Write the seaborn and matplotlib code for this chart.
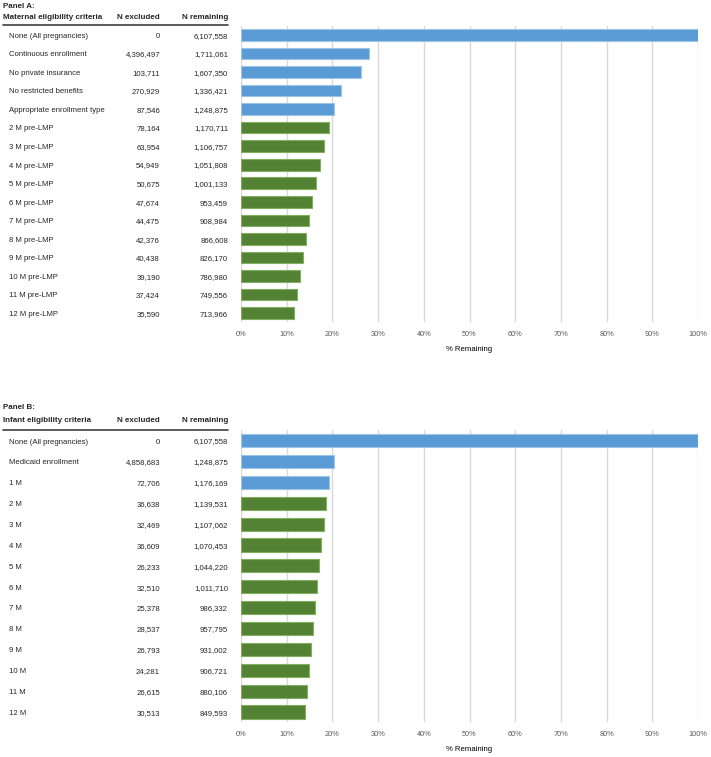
import matplotlib
matplotlib.use('Agg')
import matplotlib.pyplot as plt
import matplotlib.transforms as mtransforms
import pandas as pd
import seaborn as sns

# Panel A data
a_criteria = ['None (All pregnancies)', 'Continuous enrollment', 'No private insurance',
              'No restricted benefits', 'Appropriate enrollment type',
              '2 M pre-LMP', '3 M pre-LMP', '4 M pre-LMP', '5 M pre-LMP', '6 M pre-LMP',
              '7 M pre-LMP', '8 M pre-LMP', '9 M pre-LMP', '10 M pre-LMP', '11 M pre-LMP',
              '12 M pre-LMP']
a_excluded = [0, 4396497, 103711, 270929, 87546, 78164, 63954, 54949, 50675, 47674,
              44475, 42376, 40438, 39190, 37424, 35590]
a_remaining = [6107558, 1711061, 1607350, 1336421, 1248875, 1170711, 1106757, 1051808,
               1001133, 953459, 908984, 866608, 826170, 786980, 749556, 713966]
a_group = ['base'] * 5 + ['month'] * 11

# Panel B data
b_criteria = ['None (All pregnancies)', 'Medicaid enrollment', '1 M', '2 M', '3 M', '4 M',
              '5 M', '6 M', '7 M', '8 M', '9 M', '10 M', '11 M', '12 M']
b_excluded = [0, 4858683, 72706, 36638, 32469, 36609, 26233, 32510, 25378, 28537,
              26793, 24281, 26615, 30513]
b_remaining = [6107558, 1248875, 1176169, 1139531, 1107062, 1070453, 1044220, 1011710,
               986332, 957795, 931002, 906721, 880106, 849593]
b_group = ['base'] * 3 + ['month'] * 11

x_ticks = list(range(0, 101, 10))
x_ticklabels = [f'{t}%' for t in x_ticks]

sns.set_style('white')
plt.rcParams['font.family'] = ['Liberation Sans', 'DejaVu Sans']

W, H = 711, 757
fig = plt.figure(figsize=(W / 100, H / 100), dpi=100)

palette = {'base': '#5b9bd5', 'month': '#548235'}
edges = {'base': '#9dc3e6', 'month': '#80b060'}
FS = 5.6      # row text
FS_H = 5.8    # bold header text
FS_T = 5.3    # tick labels


def panel(top, bottom, title, header, criteria, excluded, remaining, group,
          title_y, header_y, line_y):
    ax = fig.add_axes([241 / W, 1 - bottom / H, (698 - 241) / W, (bottom - top) / H])
    df = pd.DataFrame({'criteria': criteria, 'excluded': excluded,
                       'remaining': remaining, 'group': group})
    df['pct'] = df['remaining'] / df['remaining'].iloc[0] * 100
    sns.barplot(data=df, x='pct', y='criteria', hue='group', palette=palette,
                saturation=1, dodge=False, width=0.63, legend=False, ax=ax, zorder=3)
    order = [g for g in ['base', 'month'] for _ in df.index[df['group'] == g]]
    for bar, g in zip(ax.patches, order):
        bar.set_edgecolor(edges[g])
        bar.set_linewidth(0.8)
    ax.set_xlim(0, 100)
    ax.set_xticks(x_ticks)
    ax.set_xticklabels(x_ticklabels, fontsize=FS_T, color='#595959')
    ax.tick_params(axis='x', length=0, pad=6)
    ax.set_yticks([])
    ax.set_ylabel('')
    ax.set_xlabel('% Remaining', fontsize=FS, color='black', labelpad=6)
    ax.grid(axis='x', color='#d9d9d9', linewidth=1, zorder=0)
    for s in ax.spines.values():
        s.set_visible(False)

    # table text, baseline shifted so the capitals sit centred on each bar
    tr = mtransforms.blended_transform_factory(fig.transFigure, ax.transData)
    tr = mtransforms.offset_copy(tr, fig=fig, y=-0.716 * FS / 2, units='points')
    for i, (c, e, r) in enumerate(zip(criteria, excluded, remaining)):
        ax.text(9 / W, i, c, transform=tr, ha='left', va='baseline', fontsize=FS)
        ax.text(160 / W, i, f'{e:,}', transform=tr, ha='right', va='baseline', fontsize=FS)
        ax.text(228 / W, i, f'{r:,}', transform=tr, ha='right', va='baseline', fontsize=FS)

    fig.text(3 / W, 1 - title_y / H, title, ha='left', va='center',
             fontsize=FS_H, fontweight='bold')
    fig.text(3 / W, 1 - header_y / H, header, ha='left', va='center',
             fontsize=FS_H, fontweight='bold')
    fig.text(160 / W, 1 - header_y / H, 'N excluded', ha='right', va='center',
             fontsize=FS_H, fontweight='bold')
    fig.text(228 / W, 1 - header_y / H, 'N remaining', ha='right', va='center',
             fontsize=FS_H, fontweight='bold')
    fig.add_artist(plt.Line2D([3 / W, 228 / W], [1 - line_y / H, 1 - line_y / H],
                              color='#404040', linewidth=1.2))
    return ax


panel(25.7, 322.3, 'Panel A:', 'Maternal eligibility criteria',
      a_criteria, a_excluded, a_remaining, a_group, 7.0, 17.5, 24.5)
panel(430.3, 722.4, 'Panel B:', 'Infant eligibility criteria',
      b_criteria, b_excluded, b_remaining, b_group, 407.0, 420.0, 429.5)

fig.savefig('out.png', dpi=100)
